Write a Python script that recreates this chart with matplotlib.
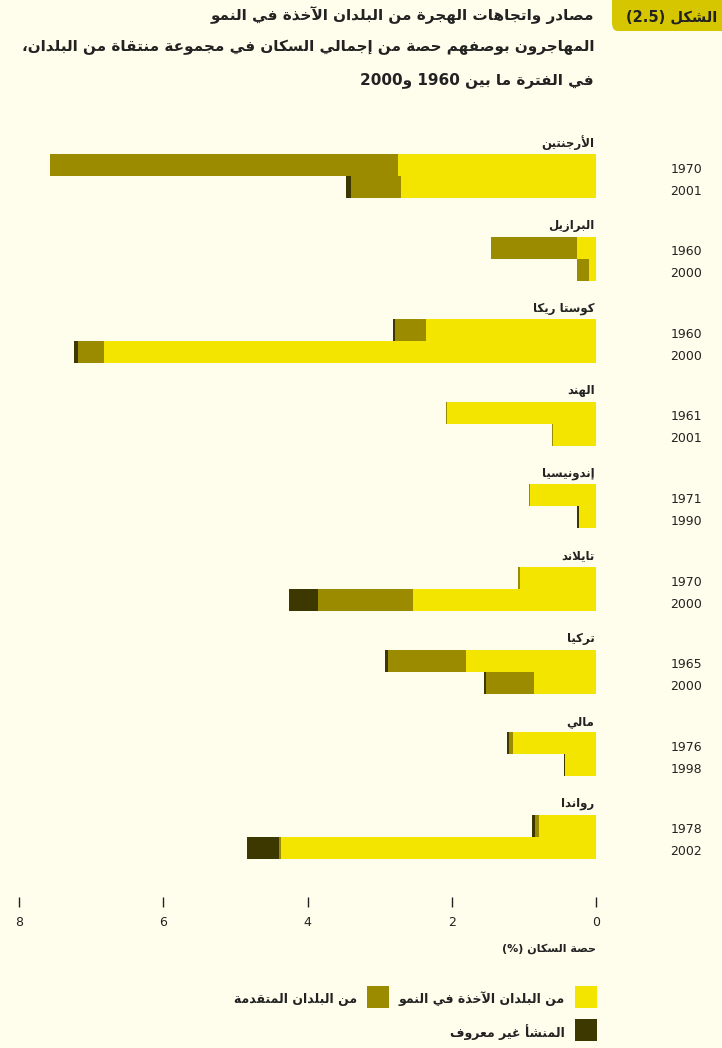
import matplotlib
matplotlib.use("Agg")
import matplotlib.pyplot as plt
from matplotlib.patches import Rectangle, FancyBboxPatch

# ---- data (share of population, %) ----
countries = ["الأرجنتين", "البرازيل", "كوستا ريكا", "الهند", "إندونيسيا",
             "تايلاند", "تركيا", "مالي", "رواندا"]
years = [["1970", "2001"], ["1960", "2000"], ["1960", "2000"], ["1961", "2001"],
         ["1971", "1990"], ["1970", "2000"], ["1965", "2000"], ["1976", "1998"],
         ["1978", "2002"]]
from_developing = [[2.75, 2.71], [0.27, 0.10], [2.36, 6.82], [2.06, 0.60],
                   [0.92, 0.24], [1.06, 2.54], [1.80, 0.86], [1.15, 0.43],
                   [0.79, 4.37]]
from_developed = [[4.82, 0.69], [1.19, 0.16], [0.42, 0.36], [0.02, 0.01],
                  [0.01, 0.00], [0.02, 1.31], [1.09, 0.66], [0.05, 0.00],
                  [0.06, 0.03]]
unknown_origin = [[0.00, 0.07], [0.00, 0.00], [0.04, 0.06], [0.00, 0.00],
                  [0.00, 0.03], [0.00, 0.40], [0.03, 0.03], [0.03, 0.02],
                  [0.04, 0.44]]
xticks = [0, 2, 4, 6, 8]

title_badge = "الشكل (2.5)"
title_lines = ["مصادر واتجاهات الهجرة من البلدان الآخذة في النمو",
               "المهاجرون بوصفهم حصة من إجمالي السكان في مجموعة منتقاة من البلدان،",
               "في الفترة ما بين 1960 و2000"]
xlabel = "حصة السكان (%)"
legend_labels = ["من البلدان الآخذة في النمو", "من البلدان المتقدمة", "المنشأ غير معروف"]

C_BG = "#fffdec"
C_DEV = "#f3e500"
C_ADV = "#9a8b00"
C_UNK = "#3d3800"
C_BADGE = "#d6c600"
C_TXT = "#222222"

# ---- minimal arabic shaping (matplotlib has no complex text layout) ----
_forms = [("ء", 0xFE80, 1), ("آ", 0xFE81, 2), ("أ", 0xFE83, 2), ("ؤ", 0xFE85, 2),
          ("إ", 0xFE87, 2), ("ئ", 0xFE89, 4), ("ا", 0xFE8D, 2), ("ب", 0xFE8F, 4),
          ("ة", 0xFE93, 2), ("ت", 0xFE95, 4), ("ث", 0xFE99, 4), ("ج", 0xFE9D, 4),
          ("ح", 0xFEA1, 4), ("خ", 0xFEA5, 4), ("د", 0xFEA9, 2), ("ذ", 0xFEAB, 2),
          ("ر", 0xFEAD, 2), ("ز", 0xFEAF, 2), ("س", 0xFEB1, 4), ("ش", 0xFEB5, 4),
          ("ص", 0xFEB9, 4), ("ض", 0xFEBD, 4), ("ط", 0xFEC1, 4), ("ظ", 0xFEC5, 4),
          ("ع", 0xFEC9, 4), ("غ", 0xFECD, 4), ("ف", 0xFED1, 4), ("ق", 0xFED5, 4),
          ("ك", 0xFED9, 4), ("ل", 0xFEDD, 4), ("م", 0xFEE1, 4), ("ن", 0xFEE5, 4),
          ("ه", 0xFEE9, 4), ("و", 0xFEED, 2), ("ى", 0xFEEF, 2), ("ي", 0xFEF1, 4)]
FORMS = {c: (s, n) for c, s, n in _forms}
LAMALEF = {"آ": 0xFEF5, "أ": 0xFEF7, "إ": 0xFEF9, "ا": 0xFEFB}


def shape(word):
    # merge lam + alef into ligature units
    units = []
    i = 0
    while i < len(word):
        c = word[i]
        if c == "ل" and i + 1 < len(word) and word[i + 1] in LAMALEF:
            units.append(("LA", LAMALEF[word[i + 1]], 2))
            i += 2
        elif c in FORMS:
            units.append((c,) + FORMS[c])
            i += 1
        else:
            units.append((c, None, 0))
            i += 1
    out = []
    for k, (c, start, n) in enumerate(units):
        if start is None:
            out.append(c)
            continue
        prev_ok = k > 0 and units[k - 1][2] == 4 and n >= 2
        next_ok = n == 4 and k + 1 < len(units) and units[k + 1][2] >= 2
        if prev_ok and next_ok:
            off = 3
        elif prev_ok:
            off = 1
        elif next_ok:
            off = 2
        else:
            off = 0
        out.append(chr(start + off))
    return "".join(out)


def is_ar(ch):
    return ch in FORMS or ch == "،"


def ar(text):
    # shape, then lay out right-to-left; digits/latin runs keep their order
    words = []
    for w in text.split(" "):
        runs = []
        for ch in w:
            if runs and is_ar(runs[-1][-1]) == is_ar(ch):
                runs[-1] += ch
            else:
                runs.append(ch)
        vis = []
        for r in reversed(runs):
            vis.append(shape(r)[::-1] if is_ar(r[0]) else r)
        words.append("".join(vis))
    return " ".join(reversed(words))


plt.rcParams["font.family"] = ["DejaVu Sans"]

W, H = 722, 1048
fig = plt.figure(figsize=(W / 100, H / 100), dpi=100, facecolor=C_BG)


def fx(px):
    return px / W


def fy(py):
    return 1 - py / H


# bar area: x=0 at px 596, x=8 at px 19; group spacing ~82.6 px
top_px, bot_px = 130, 897
gap = 82.6
first = 154
ax = fig.add_axes([fx(19), fy(bot_px), fx(596) - fx(19), (bot_px - top_px) / H])
ax.set_facecolor(C_BG)
ax.set_xlim(8, 0)
ax.set_ylim((bot_px - first) / gap, (top_px - first) / gap)

bh = 22 / gap
for i in range(len(countries)):
    for j in range(2):
        yc = i + (11 + 22 * j) / gap
        d = from_developing[i][j]
        a = from_developed[i][j]
        u = unknown_origin[i][j]
        ax.barh(yc, d, height=bh, left=0, color=C_DEV, linewidth=0)
        ax.barh(yc, a, height=bh, left=d, color=C_ADV, linewidth=0)
        ax.barh(yc, u, height=bh, left=d + a, color=C_UNK, linewidth=0)
        ax.text(-1.47, yc + 4 / gap, years[i][j], ha="right", va="center",
                fontsize=9, color=C_TXT, clip_on=False)
    ax.text(0.02, i - 11 / gap, ar(countries[i]), ha="right", va="center",
            fontsize=8.5, fontweight="bold", color=C_TXT, clip_on=False)

for s in ax.spines.values():
    s.set_visible(False)
ax.set_yticks([])
ax.set_xticks(xticks)
ax.set_xticklabels([str(t) for t in xticks])
ax.tick_params(axis="x", direction="out", length=7.5, width=1, color=C_TXT,
               pad=6, labelsize=9, labelcolor=C_TXT)

fig.text(fx(596), fy(949), ar(xlabel), ha="right", va="center", fontsize=8,
         fontweight="bold", color=C_TXT)

# title block
badge = FancyBboxPatch((fx(612), fy(31)), fx(140), 31 / H + 0.02,
                       boxstyle="round,pad=0,rounding_size=0.008",
                       transform=fig.transFigure, facecolor=C_BADGE,
                       edgecolor="none")
fig.add_artist(badge)
fig.text(fx(717), fy(17), ar(title_badge), ha="right", va="center",
         fontsize=10.5, fontweight="bold", color=C_TXT)
for k, (line, yy) in enumerate(zip(title_lines, [15, 47, 80])):
    fig.text(fx(594), fy(yy), ar(line), ha="right", va="center",
             fontsize=11, fontweight="bold", color=C_TXT)

# legend (squares to the right of the text)
legend_items = [(C_DEV, legend_labels[0], 575, 986),
                (C_ADV, legend_labels[1], 367, 986),
                (C_UNK, legend_labels[2], 575, 1019)]
for col, lab, x0, y0 in legend_items:
    fig.add_artist(Rectangle((fx(x0), fy(y0 + 22)), 22 / W, 22 / H,
                             transform=fig.transFigure, facecolor=col,
                             edgecolor="none"))
    fig.text(fx(x0 - 10), fy(y0 + 13), ar(lab), ha="right", va="center",
             fontsize=9, fontweight="bold", color=C_TXT)

fig.savefig("out.png", dpi=100, facecolor=C_BG)
